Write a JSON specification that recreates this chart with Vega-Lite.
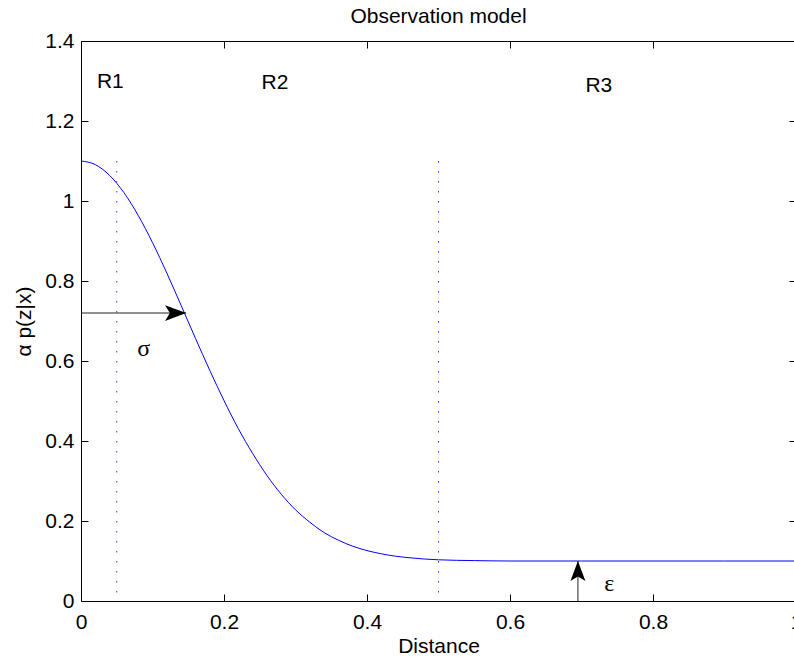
{
  "$schema": "https://vega.github.io/schema/vega-lite/v6.json",
  "width": 715,
  "height": 560,
  "autosize": {"type": "none"},
  "padding": {"left": 81, "top": 41, "right": 0, "bottom": 56},
  "background": "white",
  "title": {"text": "Observation model", "fontSize": 21, "fontWeight": "normal", "font": "Liberation Sans", "color": "black", "offset": 3, "anchor": "middle"},
  "config": {
    "view": {"stroke": null},
    "font": "Liberation Sans",
    "axis": {"grid": false, "domainColor": "black", "tickColor": "black", "labelColor": "black", "titleColor": "black", "labelFont": "Liberation Sans", "titleFont": "Liberation Sans", "labelFontSize": 21, "titleFontSize": 21, "titleFontWeight": "normal", "tickSize": -7, "labelFlush": false, "labelOverlap": false, "domainWidth": 1, "tickWidth": 1}
  },
  "datasets": {
    "curve": [
      {"x": 0, "y": 1.1}, {"x": 0.02, "y": 1.091}, {"x": 0.04, "y": 1.064}, {"x": 0.06, "y": 1.021},
      {"x": 0.08, "y": 0.964}, {"x": 0.1, "y": 0.896}, {"x": 0.12, "y": 0.82}, {"x": 0.14, "y": 0.739},
      {"x": 0.16, "y": 0.657}, {"x": 0.18, "y": 0.577}, {"x": 0.2, "y": 0.501}, {"x": 0.22, "y": 0.431},
      {"x": 0.24, "y": 0.369}, {"x": 0.26, "y": 0.314}, {"x": 0.28, "y": 0.267}, {"x": 0.3, "y": 0.228},
      {"x": 0.32, "y": 0.197}, {"x": 0.34, "y": 0.171}, {"x": 0.36, "y": 0.152}, {"x": 0.38, "y": 0.137},
      {"x": 0.4, "y": 0.126}, {"x": 0.42, "y": 0.118}, {"x": 0.44, "y": 0.112}, {"x": 0.46, "y": 0.108},
      {"x": 0.48, "y": 0.105}, {"x": 0.5, "y": 0.103}, {"x": 0.55, "y": 0.101}, {"x": 0.6, "y": 0.1},
      {"x": 0.7, "y": 0.1}, {"x": 0.8, "y": 0.1}, {"x": 0.9, "y": 0.1}, {"x": 1.0, "y": 0.1}
    ],
    "vlines": [{"x": 0.05, "y": 1.1, "y2": 0}, {"x": 0.5, "y": 1.1, "y2": 0}],
    "arrows": [{"x": 0, "x2": 0.147, "y": 0.72, "y2": 0.72}, {"x": 0.695, "x2": 0.695, "y": 0, "y2": 0.1}],
    "headRight": [{"x": 0.147, "y": 0.72}],
    "headUp": [{"x": 0.695, "y": 0.1}],
    "labels": [{"x": 0.041, "y": 1.282, "t": "R1"}, {"x": 0.2713, "y": 1.28, "t": "R2"}, {"x": 0.7242, "y": 1.272, "t": "R3"}],
    "greek": [{"x": 0.0877, "y": 0.6125, "t": "σ"}, {"x": 0.7387, "y": 0.024, "t": "ε"}]
  },
  "resolve": {"axis": {"x": "independent", "y": "independent"}},
  "layer": [
    {
      "data": {"name": "curve"},
      "mark": {"type": "line", "color": "#0000ff", "strokeWidth": 1, "interpolate": "monotone"},
      "encoding": {
        "x": {"field": "x", "type": "quantitative", "scale": {"domain": [0, 1], "nice": false, "zero": false},
              "axis": {"orient": "bottom", "values": [0, 0.2, 0.4, 0.6, 0.8, 1], "format": "~g", "labelPadding": 17, "title": "Distance", "titlePadding": 3}},
        "y": {"field": "y", "type": "quantitative", "scale": {"domain": [0, 1.4], "nice": false, "zero": false},
              "axis": {"orient": "left", "values": [0, 0.2, 0.4, 0.6, 0.8, 1, 1.2, 1.4], "format": "~g", "labelPadding": 14, "title": "α p(z|x)", "titlePadding": 10}}
      }
    },
    {
      "data": {"name": "vlines"},
      "mark": {"type": "rule", "color": "#0000ff", "strokeWidth": 1, "strokeDash": [1.5, 8.5], "opacity": 0.8},
      "encoding": {
        "x": {"field": "x", "type": "quantitative", "scale": {"domain": [0, 1], "nice": false, "zero": false},
              "axis": {"orient": "top", "values": [0, 0.2, 0.4, 0.6, 0.8, 1], "labels": false, "title": null}},
        "y": {"field": "y", "type": "quantitative", "scale": {"domain": [0, 1.4], "nice": false, "zero": false},
              "axis": {"orient": "right", "values": [0, 0.2, 0.4, 0.6, 0.8, 1, 1.2, 1.4], "labels": false, "title": null}},
        "y2": {"field": "y2"}
      }
    },
    {
      "data": {"name": "arrows"},
      "mark": {"type": "rule", "color": "#222222", "strokeWidth": 1},
      "encoding": {
        "x": {"field": "x", "type": "quantitative", "scale": {"domain": [0, 1], "nice": false, "zero": false}, "axis": null},
        "x2": {"field": "x2"},
        "y": {"field": "y", "type": "quantitative", "scale": {"domain": [0, 1.4], "nice": false, "zero": false}, "axis": null},
        "y2": {"field": "y2"}
      }
    },
    {
      "data": {"name": "headRight"},
      "mark": {"type": "point", "shape": "M0,0 L-2,-0.75 L-1.55,0 L-2,0.75 Z", "size": 441, "filled": true, "color": "black", "opacity": 1},
      "encoding": {
        "x": {"field": "x", "type": "quantitative", "scale": {"domain": [0, 1], "nice": false, "zero": false}, "axis": null},
        "y": {"field": "y", "type": "quantitative", "scale": {"domain": [0, 1.4], "nice": false, "zero": false}, "axis": null}
      }
    },
    {
      "data": {"name": "headUp"},
      "mark": {"type": "point", "shape": "M0,0 L-0.75,2 L0,1.55 L0.75,2 Z", "size": 400, "filled": true, "color": "black", "opacity": 1},
      "encoding": {
        "x": {"field": "x", "type": "quantitative", "scale": {"domain": [0, 1], "nice": false, "zero": false}, "axis": null},
        "y": {"field": "y", "type": "quantitative", "scale": {"domain": [0, 1.4], "nice": false, "zero": false}, "axis": null}
      }
    },
    {
      "data": {"name": "labels"},
      "mark": {"type": "text", "font": "Liberation Sans", "fontSize": 21, "color": "black", "align": "center", "baseline": "alphabetic"},
      "encoding": {
        "x": {"field": "x", "type": "quantitative", "scale": {"domain": [0, 1], "nice": false, "zero": false}, "axis": null},
        "y": {"field": "y", "type": "quantitative", "scale": {"domain": [0, 1.4], "nice": false, "zero": false}, "axis": null},
        "text": {"field": "t"}
      }
    },
    {
      "data": {"name": "greek"},
      "mark": {"type": "text", "font": "Liberation Serif", "fontSize": 24, "color": "black", "align": "center", "baseline": "alphabetic"},
      "encoding": {
        "x": {"field": "x", "type": "quantitative", "scale": {"domain": [0, 1], "nice": false, "zero": false}, "axis": null},
        "y": {"field": "y", "type": "quantitative", "scale": {"domain": [0, 1.4], "nice": false, "zero": false}, "axis": null},
        "text": {"field": "t"}
      }
    }
  ]
}
